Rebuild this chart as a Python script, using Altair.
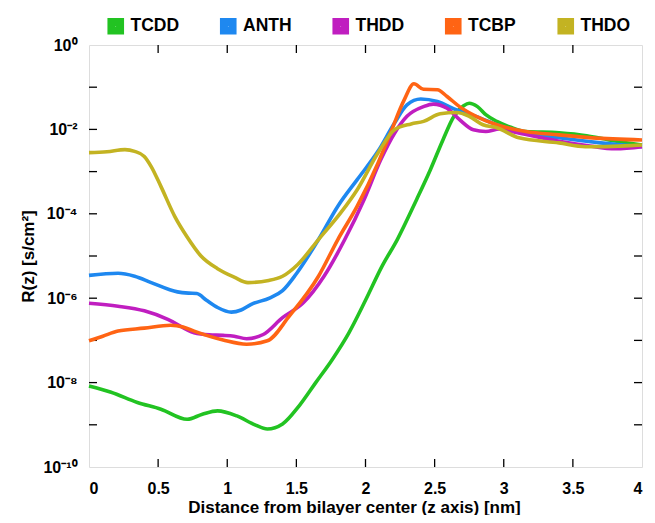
import altair as alt
import pandas as pd

# ---- data (z in nm, log10 of R in s/cm^2) ----
series_names = ["TCDD", "ANTH", "THDD", "TCBP", "THDO"]
series_colors = ["#22c322", "#1e88f0", "#c01ec0", "#ff6414", "#c3b322"]

tcdd_z = [0.00, 0.16, 0.35, 0.52, 0.71, 0.82, 0.93, 1.07, 1.20, 1.29, 1.40, 1.52, 1.64, 1.76, 1.88,
          2.00, 2.12, 2.23, 2.37, 2.47, 2.56, 2.64, 2.71, 2.75, 2.81, 2.87, 2.95, 3.05, 3.16, 3.40,
          3.60, 3.76, 4.00]
tcdd_log = [-8.08, -8.23, -8.47, -8.63, -8.87, -8.75, -8.67, -8.79, -9.00, -9.10, -8.98, -8.55, -8.00,
            -7.45, -6.82, -6.05, -5.24, -4.61, -3.66, -2.95, -2.25, -1.69, -1.44, -1.38, -1.46, -1.65,
            -1.81, -1.95, -2.05, -2.08, -2.15, -2.25, -2.37]

anth_z = [0.00, 0.21, 0.33, 0.45, 0.64, 0.72, 0.78, 0.85, 0.93, 1.03, 1.10, 1.17, 1.31, 1.40, 1.50,
          1.66, 1.80, 1.94, 2.09, 2.21, 2.30, 2.40, 2.52, 2.66, 2.80, 2.95, 3.10, 3.40, 3.70, 4.00]
anth_log = [-5.46, -5.41, -5.48, -5.63, -5.85, -5.88, -5.89, -6.05, -6.22, -6.33, -6.28, -6.15, -5.99,
            -5.82, -5.42, -4.61, -3.82, -3.19, -2.52, -1.85, -1.42, -1.28, -1.34, -1.54, -1.69, -1.89,
            -2.05, -2.20, -2.32, -2.41]

thdd_z = [0.00, 0.21, 0.40, 0.57, 0.76, 0.87, 0.97, 1.05, 1.14, 1.26, 1.40, 1.55, 1.70, 1.85, 1.99,
          2.11, 2.21, 2.30, 2.42, 2.49, 2.59, 2.68, 2.78, 2.87, 2.97, 3.10, 3.40, 3.60, 3.81, 4.00]
thdd_log = [-6.12, -6.19, -6.30, -6.50, -6.82, -6.87, -6.88, -6.90, -6.96, -6.86, -6.46, -6.11, -5.48,
            -4.61, -3.66, -2.72, -2.09, -1.69, -1.46, -1.40, -1.50, -1.77, -2.01, -2.05, -1.99, -2.08,
            -2.28, -2.38, -2.46, -2.41]

tcbp_z = [0.00, 0.10, 0.21, 0.40, 0.59, 0.68, 0.76, 0.97, 1.14, 1.29, 1.45, 1.66, 1.80, 1.94, 2.09,
          2.18, 2.28, 2.35, 2.42, 2.52, 2.59, 2.68, 2.80, 2.95, 3.16, 3.40, 3.64, 4.00]
tcbp_log = [-7.01, -6.90, -6.78, -6.71, -6.64, -6.68, -6.78, -6.99, -7.09, -7.01, -6.42, -5.48, -4.61,
            -3.82, -2.80, -2.09, -1.30, -0.92, -1.05, -1.06, -1.22, -1.46, -1.69, -1.89, -2.05, -2.13,
            -2.20, -2.25]

thdo_z = [0.00, 0.13, 0.26, 0.33, 0.40, 0.45, 0.52, 0.62, 0.71, 0.81, 0.93, 1.05, 1.15, 1.30, 1.40,
          1.51, 1.66, 1.82, 1.94, 2.09, 2.21, 2.33, 2.42, 2.54, 2.66, 2.75, 2.85, 2.95, 3.11, 3.40,
          3.59, 3.88, 4.00]
thdo_log = [-2.55, -2.53, -2.48, -2.52, -2.64, -2.88, -3.35, -4.06, -4.55, -5.00, -5.30, -5.50, -5.63,
            -5.58, -5.48, -5.20, -4.61, -3.98, -3.43, -2.56, -2.01, -1.87, -1.81, -1.63, -1.60, -1.69,
            -1.89, -1.96, -2.20, -2.32, -2.41, -2.39, -2.37]

x_ticks = [0, 0.5, 1, 1.5, 2, 2.5, 3, 3.5, 4]
y_ticks = [1e-10, 1e-9, 1e-8, 1e-7, 1e-6, 1e-5, 1e-4, 1e-3, 1e-2, 1e-1, 1.0]

# ---- build table ----
rows = []
for name, zs, ls in [("TCDD", tcdd_z, tcdd_log), ("ANTH", anth_z, anth_log),
                     ("THDD", thdd_z, thdd_log), ("TCBP", tcbp_z, tcbp_log),
                     ("THDO", thdo_z, thdo_log)]:
    for i, (z, l) in enumerate(zip(zs, ls)):
        rows.append({"series": name, "z": z, "R": 10 ** l, "order": i})
df = pd.DataFrame(rows)

W, H = 553, 422
FONT = "Liberation Sans"

xscale = alt.Scale(domain=[0, 4], nice=False, zero=False)
yscale = alt.Scale(type="log", domain=[1e-10, 1], nice=False)

label_expr = (
    "round(log(datum.value)/LN10) == 0 ? '10⁰' : "
    "round(log(datum.value)/LN10) == -2 ? '10⁻²' : "
    "round(log(datum.value)/LN10) == -4 ? '10⁻⁴' : "
    "round(log(datum.value)/LN10) == -6 ? '10⁻⁶' : "
    "round(log(datum.value)/LN10) == -8 ? '10⁻⁸' : "
    "round(log(datum.value)/LN10) == -10 ? '10⁻¹⁰' : ''"
)

lines = alt.Chart(df).mark_line(strokeWidth=3.6, interpolate="monotone").encode(
    x=alt.X("z:Q", scale=xscale,
            axis=alt.Axis(values=x_ticks, format="~g", tickSize=0, domain=False, grid=False,
                          labelFont=FONT, labelFontSize=16, labelFontWeight="bold", labelColor="black",
                          labelPadding=13, title="Distance from bilayer center (z axis) [nm]",
                          titleFont=FONT, titleFontSize=17, titleFontWeight="bold", titleColor="black",
                          titlePadding=3, titleX=265, titleAlign="center")),
    y=alt.Y("R:Q", scale=yscale,
            axis=alt.Axis(values=y_ticks, labelExpr=label_expr, tickSize=0, domain=False, grid=False,
                          labelFont=FONT, labelFontSize=16, labelFontWeight="bold", labelColor="black",
                          labelPadding=12, title="R(z) [s/cm²]",
                          titleFont=FONT, titleFontSize=17, titleFontWeight="bold", titleColor="black",
                          titlePadding=5)),
    color=alt.Color("series:N", scale=alt.Scale(domain=series_names, range=series_colors),
                    sort=series_names,
                    legend=alt.Legend(title=None, orient="none", legendX=18, legendY=-28,
                                      direction="horizontal", columns=5, gridAlign="all",
                                      columnPadding=26.5, symbolType="square", symbolSize=74,
                                      symbolStrokeWidth=8, symbolOpacity=1,
                                      labelFont=FONT, labelFontSize=17.5, labelFontWeight="bold",
                                      labelColor="black", labelOffset=6)),
    order="order:Q",
)

xt = pd.DataFrame({"x": x_ticks[1:-1]})
yt = pd.DataFrame({"y": y_ticks[1:-1]})
tick_style = dict(color="black", strokeWidth=1.3)

bottom_ticks = alt.Chart(xt).mark_rule(**tick_style).encode(
    x=alt.X("x:Q", scale=xscale), y=alt.value(H), y2=alt.value(H - 8))
top_ticks = alt.Chart(xt).mark_rule(**tick_style).encode(
    x=alt.X("x:Q", scale=xscale), y=alt.value(0), y2=alt.value(8))
left_ticks = alt.Chart(yt).mark_rule(**tick_style).encode(
    y=alt.Y("y:Q", scale=yscale), x=alt.value(0), x2=alt.value(8))
right_ticks = alt.Chart(yt).mark_rule(**tick_style).encode(
    y=alt.Y("y:Q", scale=yscale), x=alt.value(W), x2=alt.value(W - 8))

chart = alt.layer(bottom_ticks, top_ticks, left_ticks, right_ticks, lines).properties(
    width=W, height=H,
    autosize=alt.AutoSizeParams(type="none"),
    padding={"left": 81, "top": 37, "right": 5, "bottom": 48},
).configure_view(stroke="black", strokeWidth=2).configure(background="white")

chart.save("out.html", embed_options={"renderer": "svg", "actions": False})
